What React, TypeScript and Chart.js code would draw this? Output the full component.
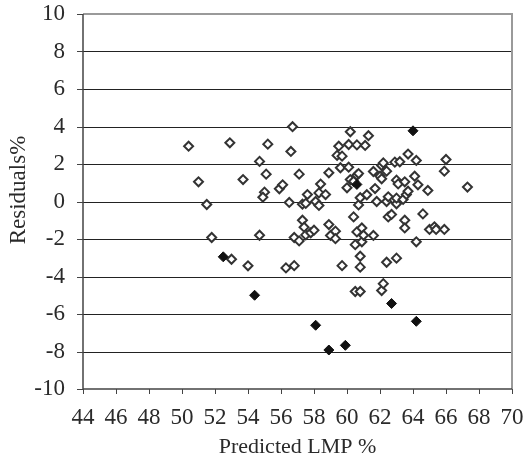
import React, { useEffect, useRef } from "react";
import { Chart, registerables } from "chart.js";

Chart.register(...registerables);

// Open diamonds: predicted LMP % vs residuals %
const openX = [
  50.4, 51.0, 51.5, 51.8, 52.9, 53.0, 53.7, 54.0, 54.7, 55.0, 54.9, 54.7, 55.1, 55.2,
  55.9, 56.1, 56.3, 56.5, 56.6, 56.7, 56.8, 56.8, 57.1, 57.1, 57.3, 57.3, 57.4, 57.5,
  57.6, 57.5, 57.8, 58.0, 58.1, 58.3, 58.3, 58.4, 58.7, 58.9, 58.9, 59.0, 59.3, 59.3,
  59.4, 59.5, 59.7, 59.6, 59.7, 60.0, 60.1, 60.1, 60.2, 60.2, 60.4, 60.4, 60.5, 60.5,
  60.6, 60.6, 60.7, 60.6, 60.7, 60.8, 60.8, 60.8, 60.8, 60.9, 60.9, 61.0, 61.1, 61.2,
  61.3, 61.6, 61.6, 61.7, 61.8, 62.0, 62.1, 62.1, 62.1, 62.2, 62.2, 62.4, 62.4, 62.4,
  62.5, 62.5, 62.7, 62.9, 63.0, 63.0, 63.0, 63.0, 63.1, 63.2, 63.4, 63.5, 63.5, 63.5,
  63.6, 63.7, 63.7, 64.1, 64.2, 64.2, 64.3, 64.6, 64.9, 65.0, 65.3, 65.4, 65.9, 65.9,
  66.0, 67.3,
];
const openY = [
  2.95, 1.05, -0.16, -1.92, 3.13, -3.08, 1.17, -3.43, 2.14, 0.5, 0.23, -1.8, 1.46, 3.06,
  0.68, 0.89, -3.54, -0.05, 2.67, 3.99, -1.92, -3.42, 1.46, -2.1, -1.0, -0.14, -1.37, -0.1,
  0.37, -1.78, -1.67, -1.53, 0.0, 0.46, -0.21, 0.93, 0.37, 1.53, -1.23, -1.81, -1.58, -1.98,
  2.46, 2.95, -3.42, 1.8, 2.42, 0.73, 1.83, 3.04, 3.72, 1.17, 1.08, -0.82, -2.3, -4.8,
  3.02, 1.4, 1.49, -1.62, -0.18, 0.2, -2.92, -3.5, -4.8, -1.41, -2.15, -1.8, 2.99, 0.36,
  3.51, -1.81, 1.6, 0.69, 0.0, 1.35, 1.92, 1.21, -4.75, -4.38, 2.06, 1.62, -3.24, 0.0,
  -0.82, 0.25, -0.69, 2.1, -3.02, -0.12, 0.18, 1.14, 0.94, 2.12, 0.11, 1.05, -1.0, -1.41,
  0.37, 2.53, 0.55, 1.35, -2.15, 2.19, 0.89, -0.66, 0.59, -1.49, -1.35, -1.49, -1.49, 1.62,
  2.24, 0.77,
];

// Filled diamonds
const filledX = [52.5, 54.4, 58.1, 58.9, 59.9, 60.6, 62.7, 64.0, 64.2];
const filledY = [-2.95, -5.0, -6.6, -7.92, -7.67, 0.91, -5.44, 3.77, -6.39];

const xTicks = [44, 46, 48, 50, 52, 54, 56, 58, 60, 62, 64, 66, 68, 70];
const yTicks = [-10, -8, -6, -4, -2, 0, 2, 4, 6, 8, 10];

const xTitle = "Predicted LMP %";
const yTitle = "Residuals%";

const serif = "'Liberation Serif', 'Times New Roman', serif";

const framePlugin = {
  id: "frame",
  beforeDatasetsDraw(chart: any) {
    const { ctx, chartArea, scales } = chart;
    const { left, right, top, bottom } = chartArea;
    ctx.save();
    // horizontal gridlines
    ctx.strokeStyle = "#222";
    ctx.lineWidth = 1;
    yTicks.forEach((v) => {
      if (v === 10 || v === -10) return;
      const y = Math.round(scales.y.getPixelForValue(v)) + 0.5;
      ctx.beginPath();
      ctx.moveTo(left, y);
      ctx.lineTo(right, y);
      ctx.stroke();
    });
    // tick marks
    ctx.strokeStyle = "#444";
    yTicks.forEach((v) => {
      const y = Math.round(scales.y.getPixelForValue(v)) + 0.5;
      ctx.beginPath();
      ctx.moveTo(left - 6, y);
      ctx.lineTo(left, y);
      ctx.stroke();
    });
    xTicks.forEach((v) => {
      const x = Math.round(scales.x.getPixelForValue(v)) + 0.5;
      ctx.beginPath();
      ctx.moveTo(x, bottom);
      ctx.lineTo(x, bottom + 5);
      ctx.stroke();
    });
    // top/right gray frame
    ctx.strokeStyle = "#9a9a9a";
    ctx.lineWidth = 2;
    ctx.beginPath();
    ctx.moveTo(left, top);
    ctx.lineTo(right, top);
    ctx.lineTo(right, bottom);
    ctx.stroke();
    // left/bottom axis lines
    ctx.strokeStyle = "#444";
    ctx.lineWidth = 1.5;
    ctx.beginPath();
    ctx.moveTo(left, top);
    ctx.lineTo(left, bottom);
    ctx.lineTo(right, bottom);
    ctx.stroke();
    // y axis title
    ctx.fillStyle = "#2a2a2a";
    ctx.font = `23px ${serif}`;
    ctx.textAlign = "center";
    ctx.textBaseline = "middle";
    ctx.translate(19, 190);
    ctx.rotate(-Math.PI / 2);
    ctx.fillText(yTitle, 0, 0);
    ctx.restore();
  },
};

export default function App() {
  const ref = useRef<HTMLCanvasElement>(null);
  useEffect(() => {
    document.body.style.margin = "0";
    const toPts = (xs: number[], ys: number[]) => xs.map((x, i) => ({ x, y: ys[i] }));
    const chart = new Chart(ref.current!, {
      type: "scatter",
      data: {
        datasets: [
          {
            data: toPts(filledX, filledY),
            pointStyle: "rectRot",
            pointRadius: 5,
            backgroundColor: "#111",
            borderColor: "#111",
            borderWidth: 1,
          },
          {
            data: toPts(openX, openY),
            pointStyle: "rectRot",
            pointRadius: 4.5,
            backgroundColor: "#fff",
            borderColor: "#333",
            borderWidth: 2,
          },
        ],
      },
      options: {
        animation: false,
        responsive: false,
        layout: { padding: { top: 14, right: 11, left: 0, bottom: 0 } },
        plugins: { legend: { display: false }, tooltip: { enabled: false } },
        scales: {
          x: {
            type: "linear",
            min: 44,
            max: 70,
            afterBuildTicks: (s: any) => {
              s.ticks = xTicks.map((value) => ({ value }));
            },
            ticks: {
              autoSkip: false,
              maxRotation: 0,
              color: "#2a2a2a",
              font: { family: serif, size: 23 },
              padding: 10,
            },
            grid: {
              drawOnChartArea: false,
              drawTicks: true,
              tickLength: 5,
              color: "rgba(0,0,0,0)",
              tickColor: "rgba(0,0,0,0)",
            },
            border: { display: false },
            title: {
              display: true,
              text: xTitle,
              color: "#2a2a2a",
              font: { family: serif, size: 22 },
              padding: { top: 4, bottom: 7 },
            },
            afterFit: (s: any) => {
              s.height = 78;
              s.paddingLeft = 0;
              s.paddingRight = 0;
            },
          },
          y: {
            type: "linear",
            min: -10,
            max: 10,
            afterBuildTicks: (s: any) => {
              s.ticks = yTicks.map((value) => ({ value }));
            },
            ticks: {
              color: "#2a2a2a",
              font: { family: serif, size: 23 },
              padding: 12,
            },
            grid: {
              drawTicks: true,
              tickLength: 6,
              color: "rgba(0,0,0,0)",
              tickColor: "rgba(0,0,0,0)",
            },
            border: { display: false },
            title: { display: false },
            afterFit: (s: any) => {
              s.width = 83;
              s.paddingTop = 0;
              s.paddingBottom = 0;
            },
          },
        },
      },
      plugins: [framePlugin],
    });
    return () => chart.destroy();
  }, []);
  return (
    <div style={{ position: "fixed", left: 0, top: 0, width: 523, height: 467, background: "#fff" }}>
      <canvas ref={ref} width={523} height={467} />
    </div>
  );
}
